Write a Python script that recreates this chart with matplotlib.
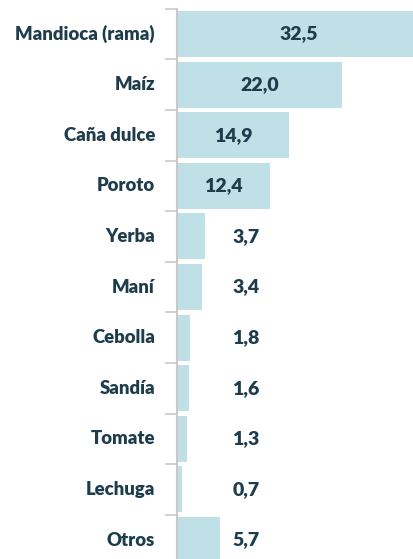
import matplotlib.pyplot as plt
import numpy as np

cultivos = ['Mandioca (rama)', 'Maíz', 'Caña dulce', 'Poroto', 'Yerba', 'Maní',
            'Cebolla', 'Sandía', 'Tomate', 'Lechuga', 'Otros']
valores = [32.5, 22.0, 14.9, 12.4, 3.7, 3.4, 1.8, 1.6, 1.3, 0.7, 5.7]
etiquetas = ['32,5', '22,0', '14,9', '12,4', '3,7', '3,4', '1,8', '1,6', '1,3', '0,7', '5,7']

azul = '#bfe0e6'
texto = '#1e3d4c'
gris = '#c9c9c9'

plt.rcParams['font.family'] = ['Lato', 'DejaVu Sans']

fig = plt.figure(figsize=(4.14, 5.59), dpi=100)
ax = fig.add_axes([177/414, 0, 1 - 177/414, (559 - 8.7)/559])

y = np.arange(len(cultivos))
ax.barh(y, valores, height=0.91, color=azul)

for i, (v, t) in enumerate(zip(valores, etiquetas)):
    if v >= 10:
        ax.text(v/2, i, t, ha='center', va='center', fontsize=14,
                fontweight='heavy', color=texto)
    else:
        ax.text(9.2, i, t, ha='center', va='center', fontsize=14,
                fontweight='heavy', color=texto)
    ax.text(-22/7.5, i, cultivos[i], ha='right', va='center', fontsize=13.3,
            fontweight='heavy', color=texto)

ax.set_xlim(0, (414 - 177)/7.5)
ax.set_ylim(10.375, -0.5)

ax.set_yticks(np.arange(len(cultivos)) - 0.5)
ax.set_yticklabels([])
ax.set_xticks([])
ax.tick_params(axis='y', length=9, width=1.2, color=gris)
for s in ['top', 'right', 'bottom']:
    ax.spines[s].set_visible(False)
ax.spines['left'].set_color(gris)
ax.spines['left'].set_linewidth(1.5)

fig.savefig('out.png', dpi=100)
